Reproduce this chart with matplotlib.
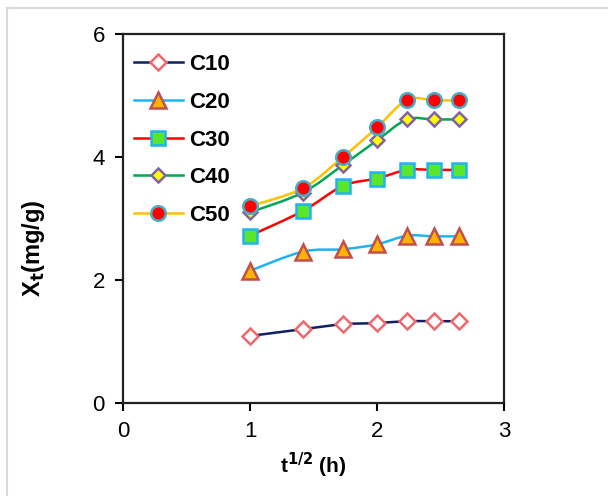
import matplotlib
matplotlib.use('Agg')
import matplotlib.pyplot as plt
import numpy as np
from matplotlib.path import Path
from matplotlib.patches import PathPatch
from matplotlib.lines import Line2D

plt.rcParams['font.family'] = ['Liberation Sans', 'DejaVu Sans']

# t^(1/2) values (t = 1..7 h)
sqrt_t = [1.0, 1.414, 1.732, 2.0, 2.236, 2.449, 2.646]

labels = ['C10', 'C20', 'C30', 'C40', 'C50']
c10 = [1.09, 1.20, 1.28, 1.30, 1.33, 1.33, 1.33]
c20 = [2.15, 2.46, 2.50, 2.58, 2.72, 2.71, 2.71]
c30 = [2.72, 3.12, 3.53, 3.65, 3.79, 3.79, 3.79]
c40 = [3.10, 3.42, 3.87, 4.27, 4.61, 4.61, 4.61]
c50 = [3.20, 3.49, 4.00, 4.48, 4.93, 4.92, 4.92]
series = [c10, c20, c30, c40, c50]

# line colour, marker, marker size, face colour, edge colour
styles = [
    ('#0f1f5f', 'D', 8.0, 'white', '#f0686c'),
    ('#1eb4f0', '^', 11.0, '#ffb300', '#c0504d'),
    ('#ff0000', 's', 10.5, '#5ae62a', '#1eb4f0'),
    ('#00a650', 'D', 7.5, '#ffff00', '#8064a2'),
    ('#ffc000', 'o', 10.5, '#ff0000', '#4bacc6'),
]


def smooth_path(x, y):
    """Excel-like smoothed line as cubic Bezier segments"""
    pts = np.column_stack([x, y])
    n = len(pts)
    verts = [pts[0]]
    codes = [Path.MOVETO]
    for i in range(n - 1):
        p0 = pts[max(i - 1, 0)]
        p1 = pts[i]
        p2 = pts[i + 1]
        p3 = pts[min(i + 2, n - 1)]
        verts += [p1 + (p2 - p0) / 6.0, p2 - (p3 - p1) / 6.0, p2]
        codes += [Path.CURVE4] * 3
    return Path(verts, codes)


fig = plt.figure(figsize=(6.08, 4.96), dpi=100)
ax = fig.add_axes([0.2023, 0.1875, 0.6267, 0.744])

handles = []
for vals, lab, (lc, mk, ms, fc, ec) in zip(series, labels, styles):
    ax.add_patch(PathPatch(smooth_path(sqrt_t, vals), facecolor='none',
                           edgecolor=lc, lw=1.8, zorder=2))
for vals, lab, (lc, mk, ms, fc, ec) in zip(series, labels, styles):
    ax.plot(sqrt_t, vals, linestyle='none', marker=mk, ms=ms,
            mfc=fc, mec=ec, mew=1.8, zorder=3)
    handles.append(Line2D([], [], color=lc, lw=1.8, marker=mk, ms=ms,
                          mfc=fc, mec=ec, mew=1.8))

ax.set_xlim(0, 3)
ax.set_ylim(0, 6)
ax.set_xticks([0, 1, 2, 3])
ax.set_yticks([0, 2, 4, 6])
ax.tick_params(direction='out', length=6, width=1.5, pad=7,
               labelsize=16, colors='black')
for sp in ax.spines.values():
    sp.set_linewidth(1.6)
    sp.set_color('#222222')

ax.set_xlabel('t$^{\\mathbf{1/2}}$ (h)', fontsize=15, fontweight='bold')
ax.set_ylabel('X$_{\\mathbf{t}}$(mg/g)', fontsize=17, fontweight='bold')
ax.xaxis.set_label_coords(0.5, -0.13)
ax.yaxis.set_label_coords(-0.2, 0.42)

leg = ax.legend(handles, labels, loc='upper left', bbox_to_anchor=(0.029, 0.945),
                frameon=False, borderpad=0, borderaxespad=0, handlelength=2.2,
                handletextpad=0.3, labelspacing=0.75,
                prop={'size': 16, 'weight': 'bold'})

# light grey frame around the image
fig.add_artist(Line2D([7 / 608, 7 / 608], [0, 1 - 8 / 496], color='#d9d9d9',
                      lw=1.5, transform=fig.transFigure))
fig.add_artist(Line2D([7 / 608, 1], [1 - 8 / 496, 1 - 8 / 496], color='#d9d9d9',
                      lw=1.5, transform=fig.transFigure))

fig.savefig('out.png', dpi=100)
